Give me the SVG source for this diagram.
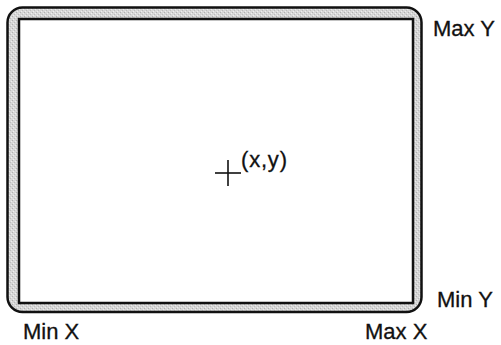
<svg xmlns="http://www.w3.org/2000/svg" width="501" height="345" viewBox="0 0 501 345">
<defs>
<pattern id="stip" width="4" height="4" patternUnits="userSpaceOnUse">
<rect width="4" height="4" fill="#d6d6d6"/>
<rect x="0" y="0" width="1" height="1" fill="#b0b0b0"/>
<rect x="2" y="2" width="1" height="1" fill="#bcbcbc"/>
<rect x="1" y="3" width="1" height="1" fill="#eeeeee"/>
<rect x="3" y="1" width="1" height="1" fill="#eeeeee"/>
</pattern>
</defs>
<style>
.lbl{font-family:"Liberation Sans",Arial,sans-serif;font-size:22px;fill:#111;stroke:#111;stroke-width:0.3}
.ln{stroke:#111;fill:none}
</style>
<rect width="501" height="345" fill="#fff"/>
<g id="frame">
<rect x="7.5" y="7.5" width="414" height="304.5" rx="15" fill="url(#stip)" stroke="#111" stroke-width="2.5"/>
<rect x="19" y="19" width="394" height="284" fill="#fff" stroke="#111" stroke-width="2.5"/>
</g>
<g id="origin">
<line class="ln" x1="215" y1="173" x2="241" y2="173" stroke-width="1.6"/>
<line class="ln" x1="228" y1="160" x2="228" y2="186" stroke-width="1.6"/>
<text class="lbl" x="241" y="167" font-size="19" textLength="46">(x,y)</text>
</g>
<g id="labels">
<text class="lbl" x="433" y="36">Max Y</text>
<text class="lbl" x="437" y="307">Min Y</text>
<text class="lbl" x="23" y="339">Min X</text>
<text class="lbl" x="365" y="339">Max X</text>
</g>
</svg>
